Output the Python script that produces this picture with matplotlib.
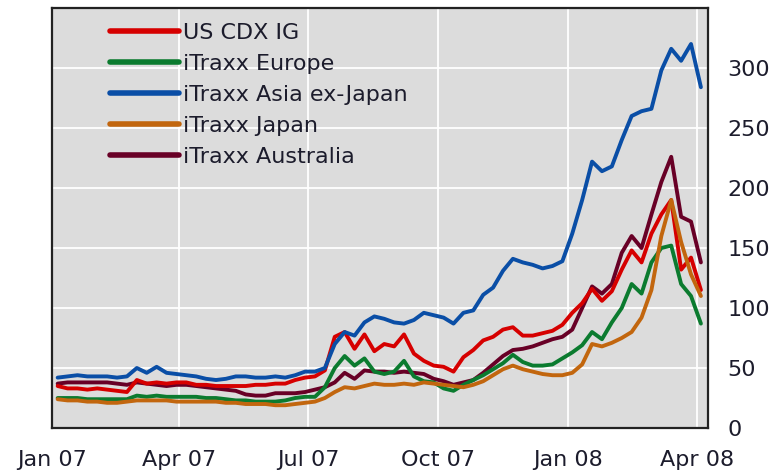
import pandas as pd
import matplotlib.pyplot as plt
import matplotlib.dates as mdates

#weekly observations, Fridays from early Jan 2007 to early Apr 2008
dates = pd.date_range("2007-01-05", periods=66, freq="7D")

#spreads in basis points
us_cdx_ig = [35, 33, 33, 32, 33, 32, 31, 30, 40, 37, 38, 37, 38, 38, 36, 36, 35, 35, 35, 35,
             36, 36, 37, 37, 40, 42, 43, 48, 76, 80, 66, 78, 64, 70, 68, 78, 62, 56, 52, 51,
             47, 59, 65, 73, 76, 82, 84, 77, 77, 79, 81, 86, 96, 104, 116, 106, 114, 132, 148, 138,
             162, 178, 190, 132, 142, 115]
itraxx_europe = [25, 25, 25, 24, 24, 24, 24, 24, 27, 26, 27, 26, 26, 26, 26, 25, 25, 24, 23, 23,
                 22, 22, 22, 23, 25, 26, 26, 34, 50, 60, 52, 58, 47, 45, 47, 56, 43, 39, 38, 33,
                 31, 36, 40, 44, 49, 54, 61, 55, 52, 52, 53, 58, 63, 69, 80, 74, 88, 100, 120, 112,
                 138, 150, 152, 120, 110, 87]
itraxx_asia = [42, 43, 44, 43, 43, 43, 42, 43, 50, 46, 51, 46, 45, 44, 43, 41, 40, 41, 43, 43,
               42, 42, 43, 42, 44, 47, 47, 50, 70, 80, 77, 88, 93, 91, 88, 87, 90, 96, 94, 92,
               87, 96, 98, 111, 117, 131, 141, 138, 136, 133, 135, 139, 162, 190, 222, 214, 218, 240, 260, 264,
               266, 298, 316, 306, 320, 284]
itraxx_japan = [24, 23, 23, 22, 22, 21, 21, 22, 23, 23, 23, 23, 22, 22, 22, 22, 22, 21, 21, 20,
                20, 20, 19, 19, 20, 21, 22, 25, 30, 34, 33, 35, 37, 36, 36, 37, 36, 38, 37, 36,
                35, 34, 36, 39, 44, 49, 52, 49, 47, 45, 44, 44, 46, 53, 70, 68, 71, 75, 80, 92,
                115, 160, 190, 155, 128, 110]
itraxx_australia = [37, 38, 38, 38, 38, 38, 37, 36, 38, 37, 36, 35, 36, 36, 35, 34, 33, 32, 31, 28,
                    27, 27, 29, 29, 29, 30, 32, 34, 38, 46, 41, 48, 47, 47, 46, 47, 46, 45, 41, 39,
                    36, 38, 40, 46, 53, 60, 65, 66, 68, 71, 74, 76, 82, 100, 118, 112, 120, 146, 160, 150,
                    178, 205, 226, 176, 172, 138]

names = ["US CDX IG", "iTraxx Europe", "iTraxx Asia ex-Japan", "iTraxx Japan", "iTraxx Australia"]
colors = ["#d60000", "#0b7b2f", "#0a4ea6", "#c2660e", "#680026"]
zorders = [3, 4, 3, 5, 2]
series = [us_cdx_ig, itraxx_europe, itraxx_asia, itraxx_japan, itraxx_australia]

plt.rcParams["font.family"] = "DejaVu Sans"
fig = plt.figure(figsize=(7.74, 4.73), dpi=100)
ax = fig.add_axes([0.0672, 0.0951, 0.8475, 0.888])
ax.set_facecolor("#dcdcdc")

for vals, name, c, z in zip(series, names, colors, zorders):
    ax.plot(dates, vals, color=c, lw=2.8, label=name, zorder=z, solid_capstyle="round")

ax.set_xlim(pd.Timestamp("2007-01-01"), pd.Timestamp("2008-04-09"))
ax.set_ylim(0, 350)

#month ticks every quarter
ticks = pd.to_datetime(["2007-01-01", "2007-04-01", "2007-07-01", "2007-10-01", "2008-01-01", "2008-04-01"])
ax.set_xticks(ticks)
ax.xaxis.set_major_formatter(mdates.DateFormatter("%b %y"))
ax.set_yticks(range(0, 301, 50))
ax.yaxis.tick_right()
ax.tick_params(axis="both", length=0, labelsize=16, colors="#1c1c2c")
ax.tick_params(axis="x", pad=16)
ax.tick_params(axis="y", pad=14)
for lab in ax.get_yticklabels():
    lab.set_horizontalalignment("left")

ax.grid(True, color="white", lw=1.3, zorder=1)
ax.set_axisbelow(True)
for s in ax.spines.values():
    s.set_linewidth(1.6)
    s.set_color("#222222")

leg = ax.legend(loc="upper left", bbox_to_anchor=(0.088, 0.965), frameon=False,
                fontsize=16, handlelength=3.1, handletextpad=0.2, labelspacing=0.5,
                borderpad=0, borderaxespad=0)
for line in leg.get_lines():
    line.set_linewidth(4)
for t in leg.get_texts():
    t.set_color("#1c1c2c")

fig.savefig("out.png", dpi=100)
